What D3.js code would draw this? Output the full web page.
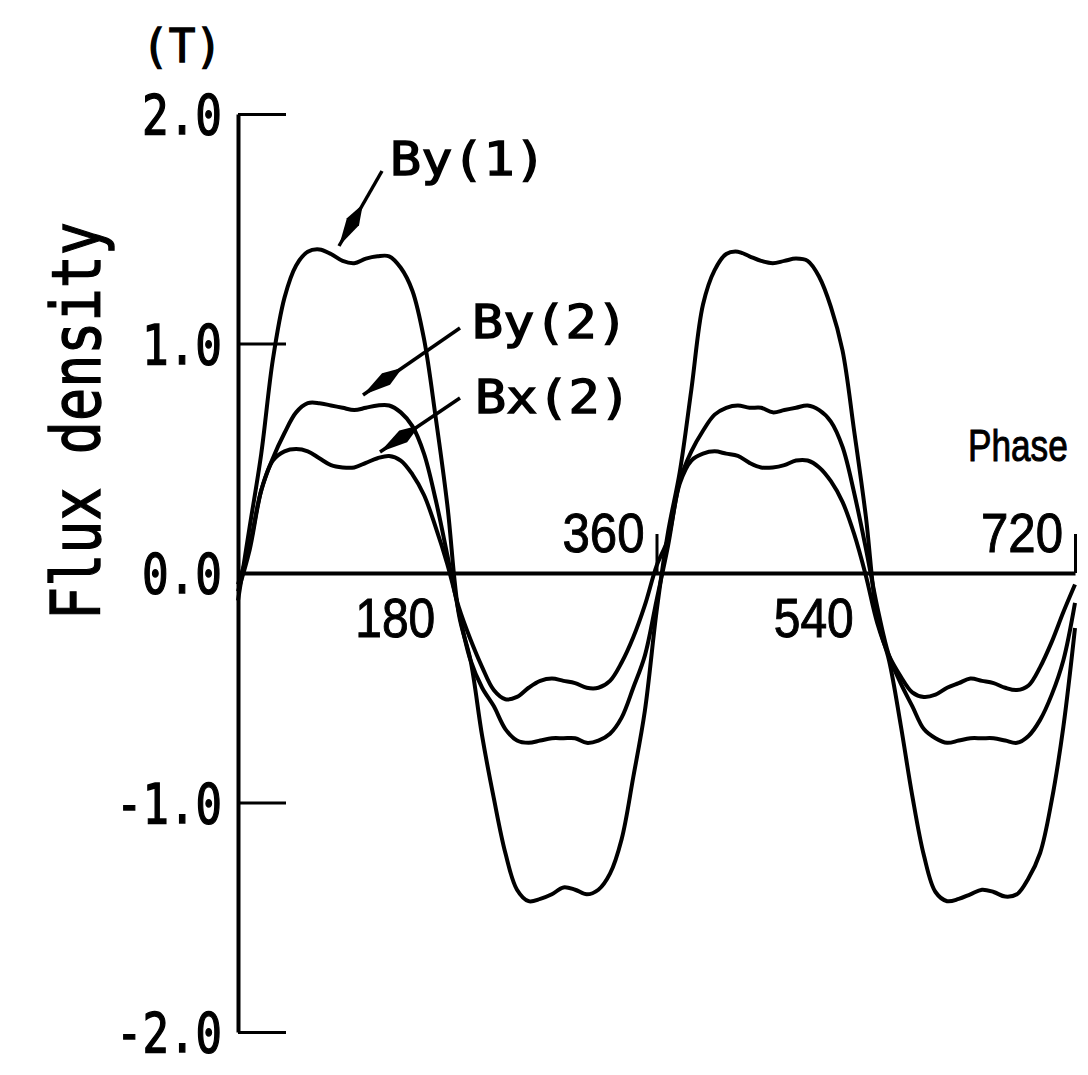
<!DOCTYPE html>
<html>
<head>
<meta charset="utf-8">
<script src="https://cdn.jsdelivr.net/npm/d3@7"></script>
<style>
  body { margin: 0; background: #fff; }
  svg { display: block; }
</style>
</head>
<body>
<div id="chart"></div>
<script>
var width = 1088;
var height = 1075;

// phase in degrees
var phase = [0, 10, 20, 30, 40, 50, 60, 70, 80, 90, 100, 110, 120, 130, 140, 150, 160, 170, 180,
  190, 200, 210, 220, 230, 240, 250, 260, 270, 280, 290, 300, 310, 320, 330, 340, 350, 360,
  370, 380, 390, 400, 410, 420, 430, 440, 450, 460, 470, 480, 490, 500, 510, 520, 530, 540,
  550, 560, 570, 580, 590, 600, 610, 620, 630, 640, 650, 660, 670, 680, 690, 700, 710, 720];

// flux density (T)
var by1 = [-0.12, 0.2, 0.52, 0.93, 1.2, 1.34, 1.4, 1.41, 1.39, 1.36, 1.35, 1.37, 1.38, 1.38, 1.33, 1.23, 1.02, 0.68, 0.3,
  -0.18, -0.38, -0.71, -0.98, -1.22, -1.38, -1.43, -1.42, -1.4, -1.37, -1.38, -1.4, -1.38, -1.31, -1.16, -0.89, -0.6, -0.17,
  0.18, 0.44, 0.8, 1.17, 1.32, 1.39, 1.4, 1.38, 1.36, 1.35, 1.36, 1.37, 1.36, 1.29, 1.16, 0.97, 0.62, 0.25,
  -0.2, -0.38, -0.66, -0.97, -1.23, -1.39, -1.43, -1.42, -1.4, -1.38, -1.39, -1.41, -1.4, -1.33, -1.22, -0.99, -0.67, -0.24];

var by2 = [-0.08, 0.1, 0.36, 0.5, 0.61, 0.7, 0.74, 0.74, 0.73, 0.72, 0.71, 0.72, 0.73, 0.73, 0.7, 0.64, 0.52, 0.32, 0.08,
  -0.17, -0.38, -0.5, -0.58, -0.68, -0.73, -0.74, -0.73, -0.72, -0.72, -0.72, -0.74, -0.73, -0.7, -0.63, -0.5, -0.36, -0.12,
  0.12, 0.4, 0.53, 0.62, 0.69, 0.72, 0.73, 0.72, 0.72, 0.7, 0.71, 0.72, 0.73, 0.71, 0.66, 0.55, 0.35, 0.11,
  -0.15, -0.36, -0.48, -0.58, -0.68, -0.72, -0.74, -0.73, -0.72, -0.72, -0.72, -0.73, -0.74, -0.71, -0.64, -0.53, -0.38, -0.13];

var bx2 = [-0.05, 0.12, 0.36, 0.49, 0.53, 0.54, 0.53, 0.5, 0.47, 0.46, 0.46, 0.48, 0.5, 0.51, 0.49, 0.43, 0.34, 0.2, 0.04,
  -0.15, -0.29, -0.41, -0.51, -0.55, -0.54, -0.5, -0.47, -0.46, -0.47, -0.48, -0.5, -0.5, -0.47, -0.39, -0.28, -0.14, 0.03,
  0.15, 0.39, 0.49, 0.52, 0.53, 0.52, 0.51, 0.48, 0.46, 0.46, 0.47, 0.49, 0.49, 0.46, 0.4, 0.31, 0.17, -0.01,
  -0.22, -0.36, -0.45, -0.52, -0.54, -0.53, -0.5, -0.48, -0.46, -0.47, -0.48, -0.5, -0.51, -0.49, -0.41, -0.3, -0.17, -0.05];

var yTicks = [-2, -1, 0, 1, 2];
var yTickLabels = ["-2.0", "-1.0", "0.0", "1.0", "2.0"];
var xTicksUp = [360, 720];
var xLabelsUp = ["360", "720"];
var xLabelsDown = [180, 540];

var x = d3.scaleLinear().domain([0, 720]).range([238, 1075]);
var y = d3.scaleLinear().domain([-2, 2]).range([1032, 114]);

var svg = d3.select('#chart').append('svg')
  .attr('width', width)
  .attr('height', height)
  .style('background', '#fff');

// y axis, ticks pointing inward
var yAxis = d3.axisLeft(y)
  .tickValues(yTicks)
  .tickFormat(function (d, i) { return yTickLabels[i]; })
  .tickSizeInner(-48)
  .tickSizeOuter(0)
  .tickPadding(16);

var gy = svg.append('g')
  .attr('transform', 'translate(' + x(0) + ',0)')
  .call(yAxis);
gy.select('.domain').attr('stroke', '#000').attr('stroke-width', 4);
gy.selectAll('.tick line').attr('stroke', '#000').attr('stroke-width', 3);
gy.selectAll('.tick text')
  .attr('fill', '#000')
  .style('font-family', 'DejaVu Sans Mono')
  .style('font-size', '55px')
  .style('stroke', '#000').style('stroke-width', 1.4)
  .attr('dy', '0.36em')
  .attr('textLength', function (d, i) { return yTickLabels[i].length === 4 ? 106 : 80; })
  .attr('lengthAdjust', 'spacingAndGlyphs');

// x axis at zero
var xAxis = d3.axisBottom(x)
  .tickValues(xTicksUp)
  .tickFormat('')
  .tickSizeInner(-39)
  .tickSizeOuter(0);

var gx = svg.append('g')
  .attr('transform', 'translate(0,' + y(0) + ')')
  .call(xAxis);
gx.select('.domain').attr('stroke', '#000').attr('stroke-width', 4);
gx.selectAll('.tick line').attr('stroke', '#000').attr('stroke-width', 3);

// x labels
svg.selectAll('.xlab-up').data(xTicksUp).enter().append('text')
  .attr('x', function (d) { return x(d) - 12; })
  .attr('y', y(0) - 21)
  .attr('text-anchor', 'end')
  .attr('textLength', 82)
  .attr('lengthAdjust', 'spacingAndGlyphs')
  .style('font-family', 'Liberation Sans')
  .style('font-size', '56px')
  .style('stroke', '#000').style('stroke-width', 1)
  .text(function (d, i) { return xLabelsUp[i]; });

svg.selectAll('.xlab-down').data(xLabelsDown).enter().append('text')
  .attr('x', function (d) { return x(d) - 12; })
  .attr('y', y(0) + 64)
  .attr('text-anchor', 'end')
  .attr('textLength', 80)
  .attr('lengthAdjust', 'spacingAndGlyphs')
  .style('font-family', 'Liberation Sans')
  .style('font-size', '56px')
  .style('stroke', '#000').style('stroke-width', 1)
  .text(function (d) { return d; });

// axis name, squeezed horizontally
svg.append('text')
  .attr('transform', 'translate(968,461) scale(0.8,1)')
  .style('font-family', 'Liberation Sans')
  .style('font-size', '44px')
  .style('stroke', '#000').style('stroke-width', 1)
  .text('Phase');

// unit and axis title
svg.append('text')
  .attr('x', 142).attr('y', 62)
  .attr('textLength', 80)
  .attr('lengthAdjust', 'spacingAndGlyphs')
  .style('font-family', 'DejaVu Sans Mono')
  .style('font-size', '46px')
  .style('stroke', '#000').style('stroke-width', 1.4)
  .text('(T)');

svg.append('text')
  .attr('transform', 'translate(100,421) rotate(-90)')
  .attr('text-anchor', 'middle')
  .attr('textLength', 398)
  .attr('lengthAdjust', 'spacingAndGlyphs')
  .style('font-family', 'DejaVu Sans Mono')
  .style('font-size', '68px')
  .style('stroke', '#000').style('stroke-width', 1.4)
  .text('Flux density');

// curves
var series = [by1, by2, bx2];
var line = d3.line()
  .x(function (d, i) { return x(phase[i]); })
  .y(function (d) { return y(d); })
  .curve(d3.curveCatmullRom.alpha(0.5));

svg.selectAll('.curve').data(series).enter().append('path')
  .attr('class', 'curve')
  .attr('d', line)
  .attr('fill', 'none')
  .attr('stroke', '#000')
  .attr('stroke-width', 4)
  .attr('stroke-linejoin', 'round');

// labels with arrows
var labels = [
  { name: 'By(1)', tx: 390, ty: 175, from: [382, 171], to: [339, 246] },
  { name: 'By(2)', tx: 472, ty: 338, from: [460, 328], to: [363, 395] },
  { name: 'Bx(2)', tx: 475, ty: 413, from: [460, 398], to: [380, 452] }
];

labels.forEach(function (l) {
  svg.append('text')
    .attr('x', l.tx).attr('y', l.ty)
    .attr('textLength', 156)
    .attr('lengthAdjust', 'spacingAndGlyphs')
    .style('font-family', 'DejaVu Sans Mono')
    .style('font-size', '46px')
    .style('stroke', '#000').style('stroke-width', 1.4)
    .text(l.name);

  svg.append('line')
    .attr('x1', l.from[0]).attr('y1', l.from[1])
    .attr('x2', l.to[0]).attr('y2', l.to[1])
    .attr('stroke', '#000').attr('stroke-width', 3.5);

  // spindle-shaped arrow head
  var dx = l.from[0] - l.to[0], dy = l.from[1] - l.to[1];
  var len = Math.sqrt(dx * dx + dy * dy);
  var ux = dx / len, uy = dy / len;
  var px = -uy, py = ux;
  var a = 28, b = 48, w = 7;
  var pts = [
    [l.to[0], l.to[1]],
    [l.to[0] + ux * a + px * w, l.to[1] + uy * a + py * w],
    [l.to[0] + ux * b, l.to[1] + uy * b],
    [l.to[0] + ux * a - px * w, l.to[1] + uy * a - py * w]
  ];
  svg.append('path')
    .attr('d', 'M' + pts.map(function (p) { return p.join(','); }).join('L') + 'Z')
    .attr('fill', '#000');
});
</script>
</body>
</html>
